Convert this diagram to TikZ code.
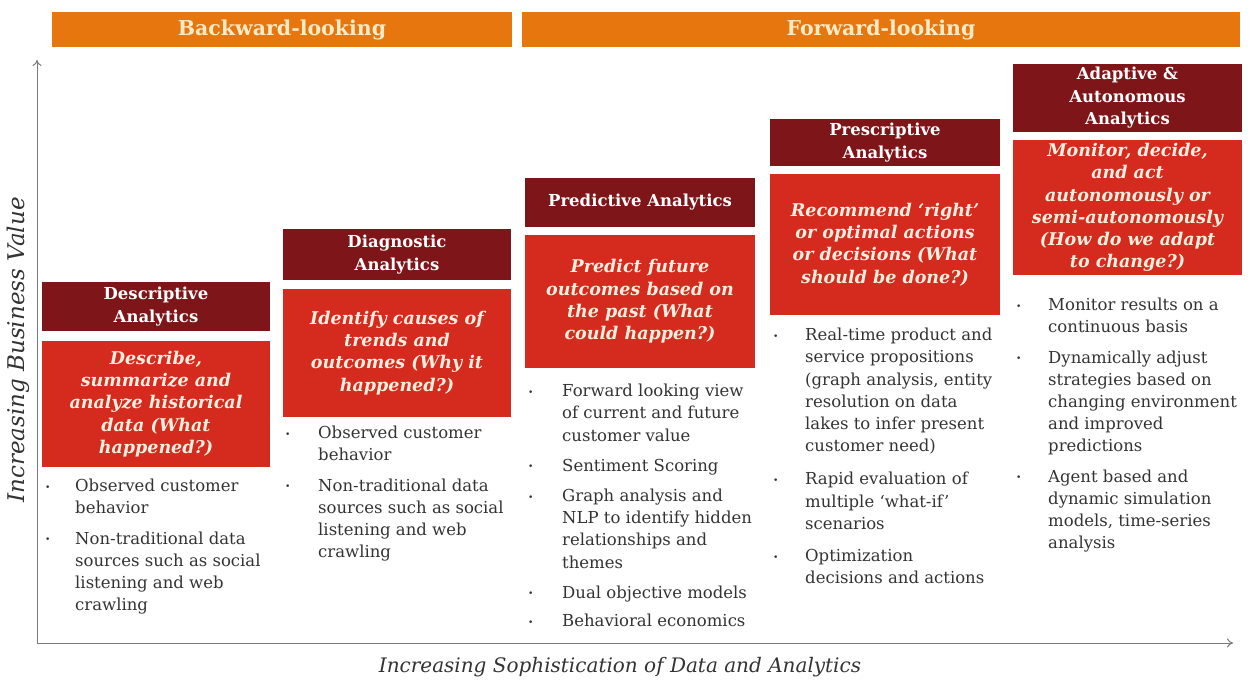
\documentclass[tikz,border=0pt]{standalone}
\usepackage{fontspec}
\setmainfont{DejaVu Serif}
\usetikzlibrary{arrows.meta}
\definecolor{bannerorange}{HTML}{E8760F}
\definecolor{hdrred}{HTML}{7E1518}
\definecolor{bodyred}{HTML}{D52A1E}
\definecolor{cream}{HTML}{FDEBC6}
\definecolor{bodycream}{HTML}{FDEFE0}
\definecolor{axisgray}{HTML}{7A7A7A}
\definecolor{txtgray}{HTML}{333333}
\newcommand{\bl}{\raisebox{1.5pt}{\fontsize{9}{9}\selectfont\textbullet}}
\begin{document}
\begin{tikzpicture}[x=1pt,y=-1pt,
 banner/.style={fill=bannerorange, text=cream, font=\bfseries\fontsize{20.5}{22}\selectfont, inner sep=0pt},
 hdr/.style={fill=hdrred, text=white, font=\bfseries\fontsize{16.5}{22.5}\selectfont, align=center, inner sep=0pt},
 bodybox/.style={fill=bodyred, text=bodycream, font=\bfseries\itshape\fontsize{17.5}{22.3}\selectfont, align=center, inner sep=0pt},
 bul/.style={anchor=north west, text=txtgray, font=\fontsize{16.5}{22.2}\selectfont, align=left, inner sep=0pt},
 axislabel/.style={text=txtgray, font=\itshape\fontsize{20}{22}\selectfont, inner sep=0pt},
 axisline/.style={draw=axisgray, line width=1pt, -{To[length=6pt,width=9pt]}},
]
\useasboundingbox (0,0) rectangle (1252,684);

% banners
\node[banner, minimum width=460, minimum height=35] (back) at (282,29.5) {Backward-looking};
\node[banner, minimum width=718, minimum height=35] (fwd) at (881,29.5) {Forward-looking};

% axes
\coordinate (origin) at (37,643);
\coordinate (ytip) at (37,60);
\coordinate (xtip) at (1233,643);
\draw[axisline] (origin) -- (ytip);
\draw[axisline] (origin) -- (xtip);
\node[axislabel, rotate=90, font=\itshape\fontsize{23}{24}\selectfont] (ylab) at (18,350) {Increasing Business Value};
\node[axislabel] (xlab) at (620,667) {Increasing Sophistication of Data and Analytics};

% column 1
\node[hdr, minimum width=228, minimum height=49] (h1) at (156,306.5) {Descriptive\\Analytics};
\node[bodybox, minimum width=228, minimum height=126] (b1) at (156,404) {Describe,\\summarize and\\analyze historical\\data (What\\happened?)};
\node[bul] (l1) at (45,476) {\begin{tabular}{@{}p{30pt}@{}l@{}}
\bl & Observed customer\\
 & behavior\\[8pt]
\bl & Non-traditional data\\
 & sources such as social\\
 & listening and web\\
 & crawling
\end{tabular}};

% column 2
\node[hdr, minimum width=228, minimum height=51] (h2) at (397,254.5) {Diagnostic\\Analytics};
\node[bodybox, minimum width=228, minimum height=128] (b2) at (397,353) {Identify causes of\\trends and\\outcomes (Why it\\happened?)};
\node[bul] (l2) at (285,423) {\begin{tabular}{@{}p{33pt}@{}l@{}}
\bl & Observed customer\\
 & behavior\\[8pt]
\bl & Non-traditional data\\
 & sources such as social\\
 & listening and web\\
 & crawling
\end{tabular}};

% column 3
\node[hdr, minimum width=230, minimum height=49] (h3) at (640,202.5) {Predictive Analytics};
\node[bodybox, minimum width=230, minimum height=133] (b3) at (640,301.5) {Predict future\\outcomes based on\\the past (What\\could happen?)};
\node[bul] (l3) at (528,381) {\begin{tabular}{@{}p{34pt}@{}l@{}}
\bl & Forward looking view\\
 & of current and future\\
 & customer value\\[8pt]
\bl & Sentiment Scoring\\[8pt]
\bl & Graph analysis and\\
 & NLP to identify hidden\\
 & relationships and\\
 & themes\\[8pt]
\bl & Dual objective models\\[6pt]
\bl & Behavioral economics
\end{tabular}};

% column 4
\node[hdr, minimum width=230, minimum height=47] (h4) at (885,142.5) {Prescriptive\\Analytics};
\node[bodybox, minimum width=230, minimum height=141] (b4) at (885,244.5) {Recommend ‘right’\\or optimal actions\\or decisions (What\\should be done?)};
\node[bul] (l4) at (773,325) {\begin{tabular}{@{}p{32pt}@{}l@{}}
\bl & Real-time product and\\
 & service propositions\\
 & (graph analysis, entity\\
 & resolution on data\\
 & lakes to infer present\\
 & customer need)\\[11pt]
\bl & Rapid evaluation of\\
 & multiple ‘what-if’\\
 & scenarios\\[10pt]
\bl & Optimization\\
 & decisions and actions
\end{tabular}};

% column 5
\node[hdr, minimum width=229, minimum height=68] (h5) at (1127.5,98) {Adaptive \&\\Autonomous\\Analytics};
\node[bodybox, minimum width=229, minimum height=135] (b5) at (1127.5,207.5) {Monitor, decide,\\and act\\autonomously or\\semi-autonomously\\(How do we adapt\\to change?)};
\node[bul] (l5) at (1016,295) {\begin{tabular}{@{}p{32pt}@{}l@{}}
\bl & Monitor results on a\\
 & continuous basis\\[8pt]
\bl & Dynamically adjust\\
 & strategies based on\\
 & changing environment\\
 & and improved\\
 & predictions\\[8pt]
\bl & Agent based and\\
 & dynamic simulation\\
 & models, time-series\\
 & analysis
\end{tabular}};
\end{tikzpicture}
\end{document}
